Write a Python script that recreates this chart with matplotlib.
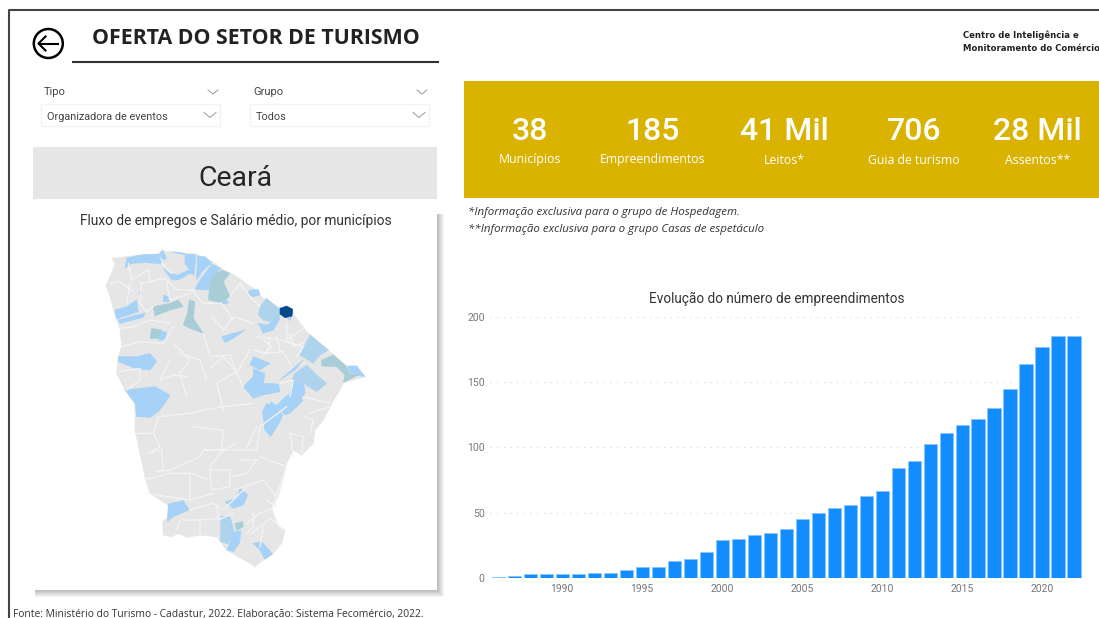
import matplotlib
matplotlib.use('Agg')
import matplotlib.pyplot as plt
from matplotlib.patches import Rectangle, Polygon, Circle

# dados do gráfico
anos = list(range(1986, 2023))
empreendimentos = [1, 2, 3, 3, 3, 3, 4, 4, 6, 9, 9, 13, 15, 20, 29, 30, 33, 35, 38,
                   45, 50, 54, 56, 63, 67, 84, 90, 103, 111, 117, 122, 130, 145, 164, 177, 185, 185]
y_ticks = [0, 50, 100, 150, 200]
x_ticks = [1990, 1995, 2000, 2005, 2010, 2015, 2020]

kpi_valores = ['38', '185', '41 Mil', '706', '28 Mil']
kpi_nomes = ['Municípios', 'Empreendimentos', 'Leitos*', 'Guia de turismo', 'Assentos**']

# contorno do estado, em pixels do recorte do mapa (y do sul ja somado 480)
contorno = [(65,55),(110,50),(150,45),(205,42),(215,30),(230,35),(245,35),(290,40),(320,42),(365,65),
            (400,88),(440,110),(490,145),(520,175),(575,205),(605,205),(612,225),(650,275),(690,310),
            (720,335),(770,378),(800,378),(825,410),(760,428),(750,450),(725,490),(728,485),
            (700,540),(675,570),(670,610),(635,645),(610,630),(590,670),(580,710),(565,770),(545,805),
            (565,860),(585,872),(575,910),(548,942),(520,960),(495,980),(480,970),(445,950),(410,930),
            (380,890),(330,885),(290,892),(265,880),(245,890),(220,885),(218,845),(235,830),(240,800),
            (180,760),(165,710),(150,640),(135,570),(135,490),(105,450),(80,400),(85,350),(95,320),
            (90,265),(75,225),(60,170),(48,135),(65,100),(75,70)]

azul_claro = [
    [(110,55),(150,45),(205,42),(215,72),(170,68),(125,70),(105,84)],
    [(207,45),(218,30),(230,55),(222,60)],
    [(245,35),(285,40),(280,44)],
    [(285,42),(318,45),(312,105),(295,85),(285,70)],
    [(322,48),(345,50),(365,68),(335,95),(320,120)],
    [(345,100),(365,72),(392,85),(370,105),(355,150),(315,148),(330,120)],
    [(220,85),(240,100),(265,105),(300,88),(312,105),(300,100),(265,120),(245,120)],
    [(480,150),(505,148),(510,165),(490,170),(472,162)],
    [(392,182),(410,180),(415,190),(400,192)],
    [(220,165),(235,170),(238,185),(220,185)],
    [(148,155),(155,155),(152,170)],
    [(75,210),(110,200),(140,180),(145,215),(100,230),(80,237)],
    [(85,240),(140,225),(165,220),(160,232),(90,250)],
    [(395,290),(465,270),(430,295),(405,308)],
    [(210,275),(230,275),(225,300),(205,300)],
    [(505,250),(530,255),(555,240),(565,225),(570,235),(550,270),(520,280)],
    [(775,378),(800,378),(825,410),(800,405),(775,395)],
    [(85,350),(140,350),(180,340),(200,365),(180,390),(135,385),(85,365)],
    [(490,350),(515,360),(540,370),(510,390),(480,375)],
    [(490,385),(510,395),(525,400),(520,430),(565,432),(570,455),(520,465),(490,475),(460,440),(490,410)],
    [(610,425),(640,420),(645,460),(620,500),(600,510),(555,510),(575,480),(600,460)],
    [(530,490),(560,510),(520,510)],
    [(105,450),(195,440),(240,465),(225,490),(205,515),(180,532),(140,530),(135,490)],
    [(545,485),(578,525),(570,545),(542,590),(525,570),(517,515)],
    [(555,495),(600,480),(640,480),(600,520),(585,525)],
    [(450,745),(473,765),(460,795),(430,805),(405,785),(440,775)],
    [(235,792),(280,782),(298,810),(250,830),(232,845)],
    [(425,878),(453,872),(448,910),(430,935),(410,930),(420,910)],
    [(488,910),(515,905),(548,942),(525,958),(510,930)],
    [(570,420),(610,385),(640,360),(615,390)],
]
azul_palido = [
    [(530,175),(570,210),(570,225),(545,245),(520,240),(505,225),(510,200)],
    [(660,285),(715,330),(690,345),(670,370),(630,345)],
    [(615,400),(650,375),(680,405),(710,430),(680,455),(640,430),(605,420)],
    [(392,830),(420,830),(432,872),(415,912),(392,905)],
    [(590,232),(605,228),(600,242)],
]
azul_esverdeado = [
    [(395,90),(420,100),(400,125),(420,170),(390,188),(355,180),(360,130),(370,105)],
    [(190,200),(240,190),(265,180),(280,200),(240,210),(195,228)],
    [(298,180),(315,185),(310,235),(340,280),(300,265),(280,255),(292,220)],
    [(185,265),(215,270),(205,295),(180,295)],
    [(695,360),(730,345),(770,380),(775,400),(805,405),(760,428),(765,405),(740,380),(695,378)],
    [(435,850),(458,845),(460,860),(440,872)],
]
fortaleza = [(570,205),(590,198),(608,208),(606,228),(585,233),(570,222)]

limites = [
    [(60,130),(90,125),(130,155)], [(115,70),(125,120),(175,90),(180,130)], [(215,70),(245,100)],
    [(150,130),(225,115),(260,150),(315,150)], [(155,130),(150,190),(170,215),(190,200)],
    [(90,265),(130,260),(180,240),(240,250)], [(95,320),(150,305),(220,310),(250,260)],
    [(85,395),(150,385),(150,420),(110,450)], [(240,360),(210,420),(250,405),(290,410)],
    [(250,310),(300,360),(270,400),(290,470)], [(340,280),(360,350),(420,345),(440,400)],
    [(360,385),(400,350),(440,395),(380,430),(400,510)], [(480,330),(440,400),(460,440)],
    [(365,230),(400,270),(430,230),(490,250)], [(420,170),(450,130),(480,170),(510,200)],
    [(310,155),(340,190),(395,190),(430,240)], [(500,290),(570,300),(640,320),(620,350)],
    [(540,300),(530,340),(580,335),(600,370)], [(590,250),(590,300),(640,265)],
    [(570,430),(610,420),(600,470)], [(640,470),(720,490)], [(660,520),(720,500)],
    [(140,580),(190,580),(205,530),(300,520)], [(300,520),(340,510),(400,500),(490,490)],
    [(190,580),(210,620),(175,640),(215,630),(220,690),(200,695),(240,690),(330,650)],
    [(305,560),(400,570),(395,630),(340,630),(330,650)], [(340,630),(500,630),(510,560),(590,500)],
    [(160,720),(240,700),(300,700),(300,780)], [(360,690),(420,690),(420,740),(365,750),(360,690)],
    [(510,650),(590,680),(545,810)], [(440,610),(400,630),(360,680)], [(170,760),(300,780),(370,760)],
    [(300,810),(370,790),(400,810),(470,740)], [(260,870),(270,840),(330,840),(330,885)],
    [(330,840),(390,835)], [(470,850),(510,820),(545,805)], [(485,880),(510,860),(540,835),(585,870)],
    [(520,860),(510,920)], [(600,575),(610,650)], [(470,625),(500,560)],
    [(520,300),(545,320),(520,345)], [(560,290),(570,335)], [(600,280),(610,320),(640,310)],
    [(490,330),(530,340)], [(640,530),(670,540),(660,580)], [(600,580),(640,590),(635,640)],
    [(450,660),(500,660),(470,700),(420,710)], [(360,720),(300,700)], [(430,750),(520,720),(560,770)],
    [(530,780),(560,800)], [(380,800),(385,840),(430,820)], [(490,820),(490,860),(470,880)],
    [(270,340),(330,360),(350,420)], [(120,130),(110,190)], [(230,130),(240,180),(300,160)],
]

plt.rcParams['font.family'] = ['Roboto', 'DejaVu Sans']
fig = plt.figure(figsize=(10.99, 6.18), dpi=100)

# camada inteira em pixels, com origem no canto superior
pg = fig.add_axes([0, 0, 1, 1])
pg.set_xlim(0, 1099)
pg.set_ylim(618, 0)
pg.axis('off')

# moldura
pg.plot([1099, 9, 9], [9.5, 9.5, 618], color='#444444', lw=1.5)

# cabeçalho
pg.add_patch(Circle((48.3, 43.5), 14.5, fill=False, ec='black', lw=1.8))
pg.plot([58, 38.5], [43.5, 43.5], color='black', lw=1.5)
pg.plot([45.5, 38.5, 45.5], [36.5, 43.5, 50.5], color='black', lw=1.5)
pg.text(256, 38.5, 'OFERTA DO SETOR DE TURISMO', fontsize=15.4, fontweight='bold',
        family='Open Sans', color='#222222', ha='center', va='center')
pg.plot([73, 438], [62, 62], color='#333333', lw=1.5)
pg.text(963, 35.5, 'Centro de Inteligência e', fontsize=6.1, fontweight='bold',
        family='DejaVu Sans', color='#222222', va='center')
pg.text(963, 48.5, 'Monitoramento do Comércio', fontsize=6.1, fontweight='bold',
        family='DejaVu Sans', color='#222222', va='center')

# filtros
for x0, nome, valor, x1 in [(44, 'Tipo', 'Organizadora de eventos', 220), (253, 'Grupo', 'Todos', 429)]:
    pg.text(x0, 92, nome, fontsize=8, color='#444444', va='center')
    pg.add_patch(Rectangle((x0 - 3, 104), x1 - x0 + 3, 22, fc='white', ec='#f3f3f3', lw=1))
    pg.text(x0 + 3, 116.5, valor, fontsize=7.8, color='#444444', va='center')
    pg.plot([x1 - 12, x1 - 7, x1 - 2], [90, 94, 90], color='#999999', lw=0.7)
    pg.plot([x1 - 16, x1 - 10, x1 - 4], [112.5, 117.5, 112.5], color='#999999', lw=0.7)

# faixa do estado
pg.add_patch(Rectangle((33, 147), 404, 52, fc='#e6e6e6', ec='none'))
pg.text(235, 178.5, 'Ceará', fontsize=20.5, color='#252525', ha='center', va='center')

# cartão do mapa com sombra
for i in range(7, 0, -1):
    pg.add_patch(Rectangle((35, 214), 402 + i, 376 + i, fc='black', ec='none', alpha=0.04))
pg.add_patch(Rectangle((33, 212), 404, 378, fc='white', ec='none'))
pg.text(235.5, 221.5, 'Fluxo de empregos e Salário médio, por municípios', fontsize=9.9,
        color='#333333', ha='center', va='center')


def para_px(pts):
    return [(90 + x / 3, 240 + y / 3) for x, y in pts]


pg.add_patch(Polygon(para_px(contorno), fc='#e6e6e6', ec='#e6e6e6', lw=0.5))
for linha in limites:
    xs, ys = zip(*para_px(linha))
    pg.plot(xs, ys, color='#f4f4f4', lw=0.9)
for grupo, cor in [(azul_claro, '#a5d2f6'), (azul_palido, '#aed3ec'), (azul_esverdeado, '#a9cdd6')]:
    for pol in grupo:
        pg.add_patch(Polygon(para_px(pol), fc=cor, ec=cor, lw=0.4))
pg.add_patch(Polygon(para_px(fortaleza), fc='#03488a', ec='#03488a', lw=0.4))

# faixa de indicadores
pg.add_patch(Rectangle((464, 81), 635, 117, fc='#d9b300', ec='none'))
for xc, valor, nome in zip([530, 652.5, 784, 914, 1037.5], kpi_valores, kpi_nomes):
    pg.text(xc, 131, valor, fontsize=23, fontweight='medium', color='white', ha='center', va='center')
    pg.text(xc, 160, nome, fontsize=8.8, color='white', ha='center', va='center', family='Open Sans')

pg.text(468, 212, '*Informação exclusiva para o grupo de Hospedagem.', fontsize=8.25,
        style='italic', family='Open Sans', color='#333333', va='center')
pg.text(468, 229, '**Informação exclusiva para o grupo Casas de espetáculo', fontsize=8.25,
        style='italic', family='Open Sans', color='#333333', va='center')

pg.text(776.5, 299, 'Evolução do número de empreendimentos', fontsize=9.85,
        color='#333333', ha='center', va='center')
pg.text(13, 614, 'Fonte: Ministério do Turismo - Cadastur, 2022. Elaboração: Sistema Fecomércio, 2022.',
        fontsize=7.35, family='Open Sans', color='#333333', va='center')

# gráfico de barras
left, right = 490.3, 1082
top, bottom = 316.7, 578.3
ax = fig.add_axes([left / 1099, 1 - bottom / 618, (right - left) / 1099, (bottom - top) / 618])
ax.patch.set_alpha(0)
ax.bar(anos, empreendimentos, width=0.82, color='#118dff', edgecolor='#8cc6ff', linewidth=0.6, zorder=2)
ax.set_xlim(1985.5, 2022.5)
ax.set_ylim(0, 200)
ax.set_yticks(y_ticks)
ax.set_xticks(x_ticks)
ax.tick_params(length=0, labelsize=7.5, labelcolor='#777777')
ax.tick_params(axis='y', pad=4)
ax.tick_params(axis='x', pad=4)
ax.grid(axis='y', color='#d4d4d4', lw=0.8, linestyle=(0, (1, 5)), zorder=0)
for lado in ax.spines.values():
    lado.set_visible(False)

fig.savefig('out.png', dpi=100)
